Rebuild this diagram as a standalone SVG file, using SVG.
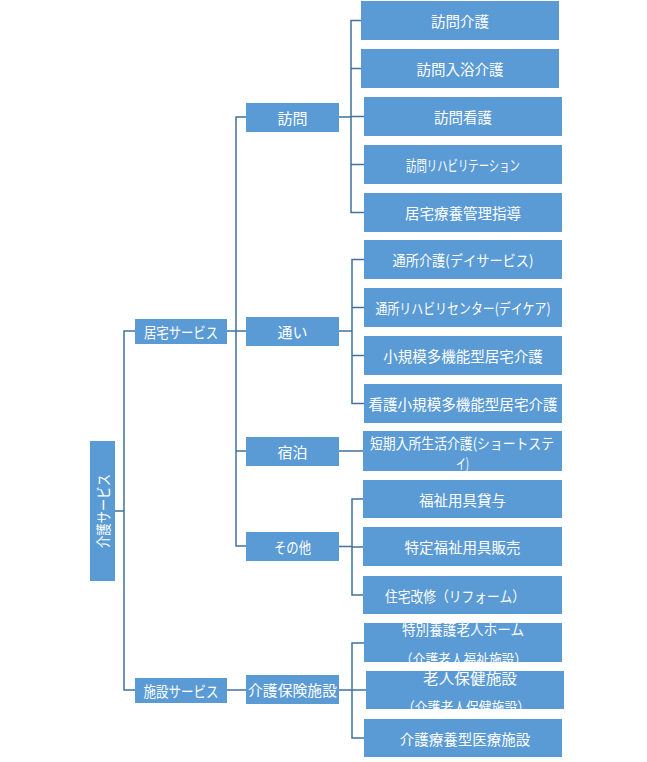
<svg xmlns="http://www.w3.org/2000/svg" width="647" height="762" viewBox="0 0 647 762">
<style>
.b{fill:#5B9BD5;}
.t{fill:#FFFFFF;font-family:"Noto Sans CJK JP","Noto Sans",sans-serif;font-size:14.5px;text-anchor:middle;dominant-baseline:central;}
.m{font-size:15px;}
.c{fill:none;stroke:#41719C;stroke-width:1.5;}
</style>
<defs>
<clipPath id="cp1"><rect x="364" y="623" width="198" height="39"/></clipPath>
<clipPath id="cp2"><rect x="366" y="671" width="198" height="38"/></clipPath>
</defs>
<rect width="647" height="762" fill="#FFFFFF"/>
<g id="connectors">
<path class="c" d="M115,511 H124 M135,331 H124 V690 H135"/>
<path class="c" d="M227,331 H236 M246,117 H236 V546 H246 M236,331 H246 M236,451 H246"/>
<path class="c" d="M227,690 H246"/>
<path class="c" d="M339,117 H351 M361,20.5 H351 V212.5 H364 M351,68.5 H361 M351,116.5 H364 M351,164.5 H364"/>
<path class="c" d="M339,331 H352 M364,259.5 H352 V403.5 H364 M352,307.5 H364 M352,355.5 H364"/>
<path class="c" d="M339,451 H363"/>
<path class="c" d="M339,546.5 H352 M363,499 H352 V595 H363 M352,547 H363"/>
<path class="c" d="M339,690 H352 M364,643 H352 V738 H364 M352,690 H366"/>
</g>
<g id="root"><rect class="b" x="90" y="441" width="25" height="140"/><text class="t m" transform="translate(102.5,511) rotate(-90)" x="0" y="0" textLength="74" lengthAdjust="spacingAndGlyphs">介護サービス</text></g>
<g id="kyotaku"><rect class="b" x="135" y="319" width="92" height="25"/><text class="t m" x="181" y="331.5" textLength="74" lengthAdjust="spacingAndGlyphs">居宅サービス</text></g>
<g id="shisetsu"><rect class="b" x="135" y="678" width="92" height="25"/><text class="t m" x="181" y="690.5" textLength="75" lengthAdjust="spacingAndGlyphs">施設サービス</text></g>
<g id="houmon"><rect class="b" x="246" y="103" width="93" height="29"/><text class="t m" x="292.5" y="117.5">訪問</text></g>
<g id="kayoi"><rect class="b" x="246" y="317" width="93" height="29"/><text class="t m" x="292.5" y="331.5">通い</text></g>
<g id="shukuhaku"><rect class="b" x="246" y="437" width="93" height="29"/><text class="t m" x="292.5" y="451.5">宿泊</text></g>
<g id="sonota"><rect class="b" x="246" y="532" width="93" height="29"/><text class="t m" x="292.5" y="546.5" textLength="37" lengthAdjust="spacingAndGlyphs">その他</text></g>
<g id="hoken"><rect class="b" x="246" y="675" width="93" height="29"/><text class="t m" x="292.5" y="689.5" textLength="89" lengthAdjust="spacingAndGlyphs">介護保険施設</text></g>
<g id="n1"><rect class="b" x="361" y="1" width="198" height="39"/><text class="t" x="460" y="20.5">訪問介護</text></g>
<g id="n2"><rect class="b" x="361" y="49" width="198" height="39"/><text class="t" x="460" y="68.5">訪問入浴介護</text></g>
<g id="n3"><rect class="b" x="364" y="97" width="198" height="39"/><text class="t" x="463" y="116.5">訪問看護</text></g>
<g id="n4"><rect class="b" x="364" y="145" width="198" height="39"/><text class="t" x="463" y="164.5" textLength="114" lengthAdjust="spacingAndGlyphs">訪問リハビリテーション</text></g>
<g id="n5"><rect class="b" x="364" y="193" width="198" height="39"/><text class="t" x="463" y="212.5">居宅療養管理指導</text></g>
<g id="n6"><rect class="b" x="364" y="240" width="198" height="39"/><text class="t" x="463" y="259.5" textLength="141" lengthAdjust="spacingAndGlyphs">通所介護(デイサービス)</text></g>
<g id="n7"><rect class="b" x="364" y="288" width="198" height="39"/><text class="t" x="463" y="307.5" textLength="175" lengthAdjust="spacingAndGlyphs">通所リハビリセンター(デイケア)</text></g>
<g id="n8"><rect class="b" x="364" y="336" width="198" height="39"/><text class="t" x="463" y="355.5">小規模多機能型居宅介護</text></g>
<g id="n9"><rect class="b" x="364" y="384" width="198" height="39"/><text class="t" x="463" y="403.5" textLength="189" lengthAdjust="spacingAndGlyphs">看護小規模多機能型居宅介護</text></g>
<g id="n10"><rect class="b" x="363" y="431" width="199" height="40"/><text class="t" x="462" y="442" textLength="184" lengthAdjust="spacingAndGlyphs">短期入所生活介護(ショートステ</text><text class="t" x="462.5" y="462" textLength="13" lengthAdjust="spacingAndGlyphs">イ)</text></g>
<g id="n11"><rect class="b" x="363" y="480" width="199" height="38"/><text class="t" x="462.5" y="499">福祉用具貸与</text></g>
<g id="n12"><rect class="b" x="363" y="527" width="199" height="39"/><text class="t" x="462.5" y="546.5">特定福祉用具販売</text></g>
<g id="n13"><rect class="b" x="363" y="576" width="199" height="38"/><text class="t" x="455" y="595" textLength="140" lengthAdjust="spacingAndGlyphs">住宅改修（リフォーム）</text></g>
<g id="n14"><rect class="b" x="364" y="623" width="198" height="39"/><g clip-path="url(#cp1)"><text class="t" x="463" y="628" textLength="122" lengthAdjust="spacingAndGlyphs">特別養護老人ホーム</text><text class="t" x="463.5" y="658" textLength="127" lengthAdjust="spacingAndGlyphs">（介護老人福祉施設）</text></g></g>
<g id="n15"><rect class="b" x="366" y="671" width="198" height="38"/><g clip-path="url(#cp2)"><text class="t" x="470" y="677" textLength="94" lengthAdjust="spacingAndGlyphs">老人保健施設</text><text class="t" x="466" y="706" textLength="128" lengthAdjust="spacingAndGlyphs">（介護老人保健施設）</text></g></g>
<g id="n16"><rect class="b" x="364" y="719" width="198" height="38"/><text class="t" x="465" y="738">介護療養型医療施設</text></g>
</svg>
